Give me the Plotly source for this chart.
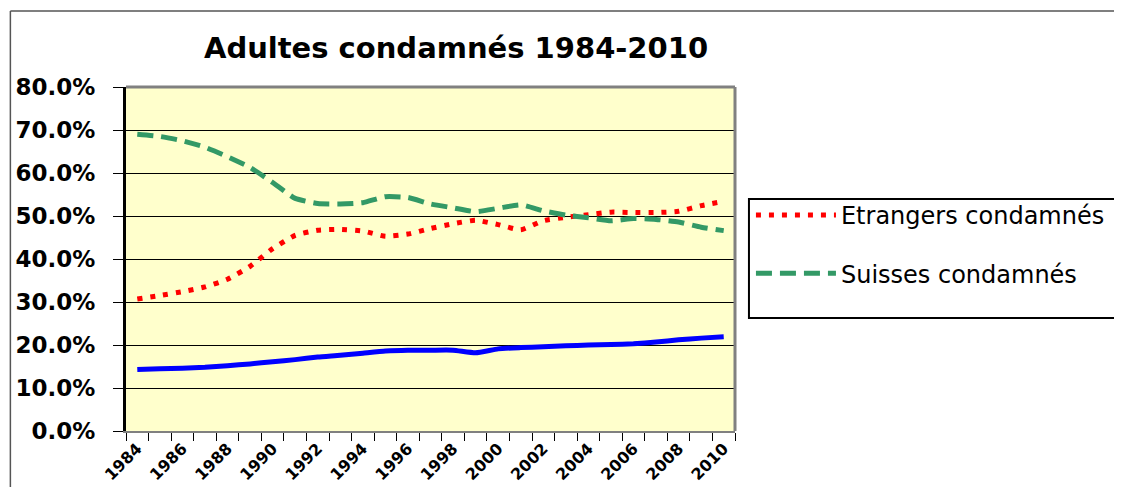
import plotly.graph_objects as go

years = list(range(1984, 2011))

etrangers = [30.7, 31.5, 32.4, 33.5, 35.3, 38.3, 42.4, 45.5, 46.7, 46.9, 46.5, 45.3, 45.8,
             47.1, 48.2, 49.0, 48.0, 46.8, 48.9, 49.7, 50.3, 50.9, 50.8, 50.8, 51.1, 52.4, 53.4]
suisses = [69.0, 68.5, 67.5, 66.0, 63.8, 61.3, 57.8, 54.1, 52.9, 52.8, 53.1, 54.5, 54.3,
           52.8, 51.9, 51.0, 51.8, 52.6, 51.2, 50.2, 49.6, 48.9, 49.4, 49.2, 48.6, 47.4, 46.6]
autres = [14.3, 14.5, 14.6, 14.8, 15.2, 15.6, 16.1, 16.6, 17.2, 17.6, 18.1, 18.6, 18.8,
          18.8, 18.8, 18.2, 19.1, 19.4, 19.6, 19.8, 20.0, 20.1, 20.3, 20.7, 21.2, 21.6, 21.9]

label_years = years[::2]
y_ticks = [0, 10, 20, 30, 40, 50, 60, 70, 80]

# page body has an 8px margin, so the figure is drawn 8px in from the window corner
OFF = 8
W, H = 1122, 487
L, R, T, B = 126, 737, 87, 431


def px_x(p):
    return (p - L) / (R - L)


def px_y(p):
    return (B - p) / (B - T)


fig = go.Figure()

fig.add_trace(go.Scatter(
    x=years, y=autres, mode="lines", showlegend=False, name="",
    line=dict(color="#0000FF", width=5, shape="spline", smoothing=0.5),
))
fig.add_trace(go.Scatter(
    x=years, y=etrangers, mode="lines", name="Etrangers condamnés",
    legendgroup="a",
    line=dict(color="#FF0000", width=5, dash="5px,8px", shape="spline", smoothing=0.5),
))
fig.add_trace(go.Scatter(
    x=years, y=suisses, mode="lines", name="Suisses condamnés",
    legendgroup="b",
    line=dict(color="#339966", width=5, dash="16px,8px", shape="spline", smoothing=0.5),
))

shapes = [
    # outer chart frame (cut off right/bottom)
    dict(type="line", xref="paper", yref="paper", x0=px_x(10), x1=px_x(1130),
         y0=px_y(11), y1=px_y(11), line=dict(color="#555555", width=1.5)),
    dict(type="line", xref="paper", yref="paper", x0=px_x(10), x1=px_x(10),
         y0=px_y(11), y1=px_y(495), line=dict(color="#555555", width=1.5)),
    # plot area border right / top
    dict(type="line", xref="paper", yref="paper", x0=1, x1=1, y0=0, y1=1,
         line=dict(color="#808080", width=3)),
    dict(type="line", xref="paper", yref="paper", x0=0, x1=1, y0=1, y1=1,
         line=dict(color="#808080", width=3)),
    # legend box
    dict(type="rect", xref="paper", yref="paper", x0=px_x(751), x1=px_x(1135),
         y0=px_y(318), y1=px_y(199), line=dict(color="black", width=2)),
]

fig.update_layout(
    width=W - OFF, height=H - OFF,
    margin=dict(l=L - OFF, r=W - R, t=T - OFF, b=H - B),
    paper_bgcolor="white",
    plot_bgcolor="#FFFFCC",
    title=dict(text="<b>Adultes condamnés 1984-2010</b>", xref="container",
               x=(456 - OFF) / (W - OFF), xanchor="center",
               y=1 - (48 - OFF) / (H - OFF), yanchor="middle",
               font=dict(family="DejaVu Sans", size=29, color="black")),
    showlegend=True,
    legend=dict(x=px_x(753), y=px_y(193), xanchor="left", yanchor="top",
                bgcolor="rgba(0,0,0,0)", borderwidth=0, itemwidth=80,
                tracegroupgap=24, traceorder="grouped",
                font=dict(family="DejaVu Sans", size=24, color="black")),
    shapes=shapes,
)

fig.update_xaxes(
    range=[1983.5, 2010.5], tickmode="array", tickvals=label_years,
    ticktext=[str(y) for y in label_years], tickangle=-45, ticks="",
    tickfont=dict(family="DejaVu Sans", size=16, color="black", weight="bold"),
    showgrid=False, zeroline=False, automargin=False,
    showline=True, linecolor="#808080", linewidth=2,
    minor=dict(tickmode="linear", tick0=1983.5, dtick=1, ticks="outside",
               ticklen=8, tickcolor="black", tickwidth=1, showgrid=False),
)
fig.update_yaxes(
    range=[0, 80], tickmode="array", tickvals=y_ticks,
    ticktext=[f"{v:.1f}%" for v in y_ticks],
    ticks="outside", ticklen=10, tickcolor="black", tickwidth=1,
    ticklabelstandoff=13, automargin=False,
    tickfont=dict(family="DejaVu Sans", size=23, color="black", weight="bold"),
    showgrid=True, gridcolor="black", gridwidth=1, zeroline=False,
    showline=True, linecolor="black", linewidth=3,
)

fig.write_html("out.html")
